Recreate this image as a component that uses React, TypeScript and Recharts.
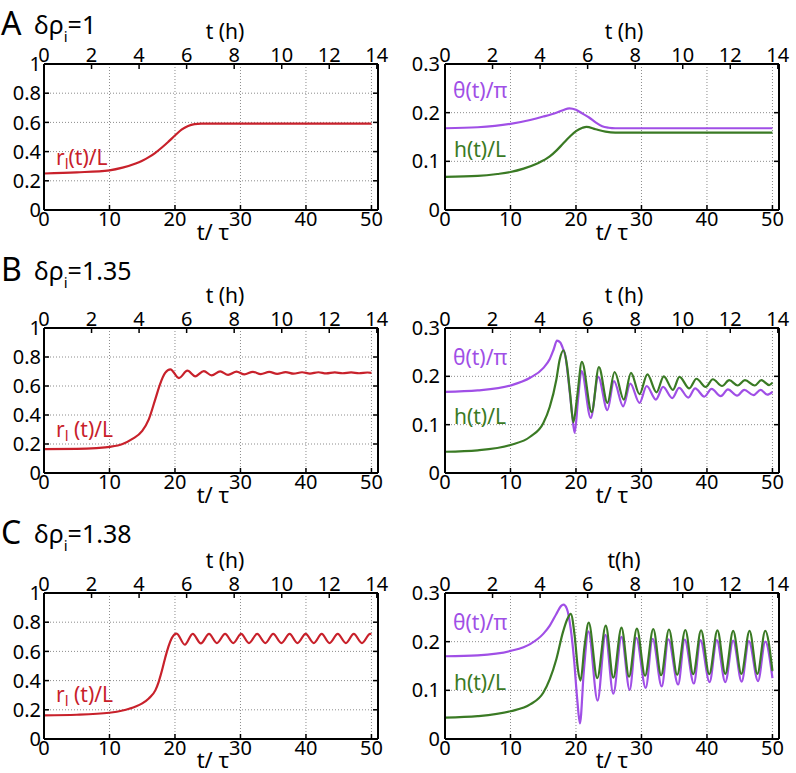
import React from "react";
import { LineChart, Line, XAxis, YAxis, CartesianGrid } from "recharts";

const FONT = "'Noto Sans', 'DejaVu Sans', sans-serif";
const RED = "#c8212b";
const PURPLE = "#a04fe6";
const GREEN = "#3a7a24";

const tauTicks = [0, 10, 20, 30, 40, 50];
const hourTicks = [0, 2, 4, 6, 8, 10, 12, 14];
const rTicks = [0, 0.2, 0.4, 0.6, 0.8, 1];
const angleTicks = [0, 0.1, 0.2, 0.3];

// A: δρi = 1
const tA_r = [0, 5, 10, 12, 14, 15, 16, 17, 18, 19, 20, 21, 22, 23, 24, 26, 30, 40, 50];
const rA = [0.25, 0.258, 0.272, 0.29, 0.318, 0.338, 0.362, 0.392, 0.428, 0.468, 0.51, 0.55, 0.575, 0.588, 0.592, 0.592, 0.592, 0.592, 0.592];
const tA_th = [0, 5, 10, 13, 15, 17, 18, 19, 20, 21, 22, 23, 24, 25, 26, 30, 40, 50];
const thA = [0.168, 0.17, 0.177, 0.185, 0.192, 0.2, 0.205, 0.209, 0.206, 0.198, 0.19, 0.18, 0.172, 0.169, 0.168, 0.168, 0.168, 0.168];
const tA_h = [0, 5, 8, 10, 12, 14, 16, 17, 18, 19, 20, 21, 21.6, 23, 24.5, 26, 30, 50];
const hA = [0.068, 0.07, 0.074, 0.078, 0.085, 0.095, 0.11, 0.122, 0.136, 0.15, 0.162, 0.169, 0.171, 0.166, 0.161, 0.159, 0.159, 0.159];

// B: δρi = 1.35
const tB_r = [0, 5, 8, 10, 12, 13.5, 15, 16, 17, 17.7, 18.5, 19.3, 20.6, 21.9, 23.1, 24.4, 25.6, 26.9, 28.1, 29.4, 30.6, 31.9, 33.1, 34.4, 35.6, 36.9, 38.1, 39.4, 40.6, 41.9, 43.1, 44.4, 45.6, 46.9, 48.1, 49.4, 50];
const rB = [0.164, 0.166, 0.172, 0.18, 0.2, 0.235, 0.29, 0.37, 0.51, 0.61, 0.69, 0.715, 0.655, 0.706, 0.667, 0.703, 0.673, 0.701, 0.677, 0.699, 0.68, 0.698, 0.682, 0.697, 0.684, 0.696, 0.685, 0.695, 0.686, 0.695, 0.687, 0.694, 0.688, 0.694, 0.688, 0.693, 0.691];
const tB_th = [0, 5, 10, 13, 15, 16, 16.6, 17.1, 17.6, 18, 18.4, 18.9, 19.4, 19.8, 20.3, 20.85, 22.25, 23.4, 24.8, 25.8, 27.2, 28.3, 29.7, 30.8, 32.2, 33.3, 34.7, 35.75, 37.15, 38.2, 39.6, 40.7, 42.1, 43.2, 44.6, 45.7, 47.1, 48.2, 49.2, 50];
const thB = [0.168, 0.171, 0.181, 0.197, 0.217, 0.236, 0.256, 0.274, 0.27, 0.258, 0.241, 0.186, 0.123, 0.083, 0.15, 0.211, 0.114, 0.199, 0.13, 0.19, 0.138, 0.185, 0.145, 0.18, 0.152, 0.178, 0.155, 0.176, 0.156, 0.175, 0.158, 0.174, 0.159, 0.173, 0.16, 0.172, 0.161, 0.172, 0.162, 0.168];
const tB_h = [0, 5, 10, 13, 15, 16, 17, 17.5, 18.1, 18.6, 19.1, 19.6, 20.2, 20.9, 22.4, 23.5, 24.8, 25.9, 27.3, 28.4, 29.7, 30.9, 32.3, 33.4, 34.8, 35.8, 37.3, 38.4, 39.8, 40.9, 42.3, 43.4, 44.7, 45.8, 47.3, 48.3, 49.5, 50];
const hB = [0.044, 0.047, 0.058, 0.075, 0.103, 0.137, 0.193, 0.234, 0.254, 0.225, 0.165, 0.105, 0.16, 0.23, 0.126, 0.219, 0.145, 0.209, 0.152, 0.207, 0.163, 0.204, 0.167, 0.2, 0.172, 0.199, 0.175, 0.195, 0.178, 0.194, 0.18, 0.192, 0.181, 0.192, 0.181, 0.192, 0.182, 0.187];

// C: δρi = 1.38
const tC_r = [0, 5, 10, 12, 13, 14, 15, 16, 17, 17.5, 18, 18.5, 19, 19.5, 20.25, 21.5, 22.7, 23.95, 25.2, 26.4, 27.65, 28.9, 30.1, 31.3, 32.55, 33.8, 35, 36.25, 37.5, 38.7, 39.95, 41.2, 42.4, 43.6, 44.85, 46.1, 47.3, 48.55, 49.8, 50];
const rC = [0.162, 0.166, 0.18, 0.195, 0.207, 0.222, 0.244, 0.278, 0.333, 0.39, 0.467, 0.555, 0.633, 0.69, 0.722, 0.646, 0.72, 0.655, 0.72, 0.657, 0.72, 0.657, 0.72, 0.657, 0.72, 0.657, 0.72, 0.657, 0.72, 0.657, 0.72, 0.657, 0.72, 0.657, 0.72, 0.657, 0.72, 0.657, 0.72, 0.719];
const tC_th = [0, 5, 10, 13, 15, 16, 17, 17.7, 18.1, 18.6, 19.2, 19.7, 20.2, 20.6, 21.2, 21.9, 23.3, 24.5, 25.7, 26.95, 28.2, 29.2, 30.65, 31.7, 33.1, 34.1, 35.6, 36.6, 38, 39, 40.4, 41.5, 42.8, 44, 45.3, 46.4, 47.8, 48.9, 50];
const thC = [0.17, 0.172, 0.181, 0.195, 0.216, 0.233, 0.257, 0.273, 0.276, 0.268, 0.226, 0.164, 0.08, 0.032, 0.14, 0.221, 0.079, 0.214, 0.093, 0.21, 0.101, 0.208, 0.105, 0.206, 0.108, 0.205, 0.112, 0.204, 0.114, 0.203, 0.117, 0.203, 0.117, 0.202, 0.118, 0.201, 0.119, 0.2, 0.125];
const tC_h = [0, 5, 10, 13, 15, 16, 17, 18, 18.7, 19.2, 19.8, 20.3, 20.7, 21.3, 21.95, 23.25, 24.55, 25.7, 26.95, 28.1, 29.3, 30.55, 31.8, 33, 34.2, 35.45, 36.7, 37.9, 39.1, 40.35, 41.6, 42.8, 44, 45.25, 46.5, 47.7, 48.9, 50];
const hC = [0.044, 0.047, 0.057, 0.071, 0.095, 0.123, 0.164, 0.219, 0.247, 0.257, 0.212, 0.143, 0.12, 0.19, 0.239, 0.125, 0.233, 0.126, 0.229, 0.128, 0.227, 0.13, 0.226, 0.131, 0.225, 0.132, 0.224, 0.133, 0.223, 0.133, 0.223, 0.134, 0.222, 0.134, 0.222, 0.134, 0.222, 0.14];

type Pt = { t: number; v: number };
const zip = (t: number[], v: number[]): Pt[] => t.map((x, i) => ({ t: x, v: v[i] }));

// empty rows so the top (hours) axis has something to belong to
const hourAnchor = hourTicks.map((h) => ({ h }));

type Series = { name: string; data: Pt[]; color: string };

type PanelProps = {
  x: number;
  plotTop: number;
  plotH: number;
  width: number;
  yw: number;
  right: number;
  yMax: number;
  yTicks: number[];
  yMargin: number;
  series: Series[];
};

function Panel({ x, plotTop, plotH, width, yw, right, yMax, yTicks, yMargin, series }: PanelProps) {
  const height = plotH + 104;
  const axisLine = { stroke: "#000", strokeWidth: 2 };
  const tickLine = { stroke: "#000", strokeWidth: 1.5 };
  const tick = { fontSize: 20, fill: "#000", fontFamily: FONT };
  return (
    <div style={{ position: "absolute", left: x, top: plotTop - 64 }}>
      <LineChart width={width} height={height} margin={{ top: 34, right, bottom: 10, left: 4 }}>
        <CartesianGrid xAxisId="tau" yAxisId="left" stroke="#8c8c8c" strokeDasharray="1 2" />
        <XAxis
          xAxisId="tau"
          dataKey="t"
          type="number"
          domain={[0, 51]}
          ticks={tauTicks}
          allowDataOverflow
          interval={0}
          height={30}
          axisLine={axisLine}
          tickLine={tickLine}
          tickSize={-5}
          tickMargin={7}
          tick={tick}
        />
        <XAxis
          xAxisId="hour"
          dataKey="h"
          orientation="top"
          type="number"
          domain={[0, 14.05]}
          ticks={hourTicks}
          allowDataOverflow
          interval={0}
          height={30}
          axisLine={axisLine}
          tickLine={tickLine}
          tickSize={-5}
          tickMargin={7}
          tick={tick}
        />
        <YAxis
          yAxisId="left"
          type="number"
          domain={[0, yMax]}
          ticks={yTicks}
          allowDataOverflow
          interval={0}
          width={yw}
          axisLine={axisLine}
          tickLine={tickLine}
          tickSize={-5}
          tickMargin={yMargin}
          tick={tick}
          tickFormatter={(v) => String(v)}
        />
        <YAxis
          yAxisId="right"
          orientation="right"
          type="number"
          domain={[0, yMax]}
          ticks={yTicks}
          allowDataOverflow
          interval={0}
          width={2}
          axisLine={axisLine}
          tickLine={tickLine}
          tickSize={-5}
          tickFormatter={() => ""}
        />
        <Line
          xAxisId="hour"
          yAxisId="right"
          data={hourAnchor}
          dataKey="v"
          stroke="none"
          dot={false}
          legendType="none"
          isAnimationActive={false}
        />
        {series.map((s) => (
          <Line
            key={s.name}
            xAxisId="tau"
            yAxisId="left"
            data={s.data}
            dataKey="v"
            name={s.name}
            type="monotone"
            stroke={s.color}
            strokeWidth={2.2}
            dot={false}
            isAnimationActive={false}
          />
        ))}
      </LineChart>
    </div>
  );
}

const rows = [
  { key: "A", dp: "=1", plotTop: 64, plotH: 146, titleY: 35, rY: 165, thY: 98, hY: 157, r: zip(tA_r, rA), th: zip(tA_th, thA), h: zip(tA_h, hA) },
  { key: "B", dp: "=1.35", plotTop: 328, plotH: 145, titleY: 281, rY: 437, thY: 365, hY: 424, r: zip(tB_r, rB), th: zip(tB_th, thB), h: zip(tB_h, hB) },
  { key: "C", dp: "=1.38", plotTop: 593, plotH: 146, titleY: 544, rY: 702, thY: 630, hY: 690, r: zip(tC_r, rC), th: zip(tC_th, thC), h: zip(tC_h, hC) },
];

export default function App() {
  return (
    <div
      style={{
        position: "absolute",
        left: 0,
        top: 0,
        width: 796,
        height: 773,
        overflow: "hidden",
        background: "#fff",
        fontFamily: FONT,
      }}
    >
      {rows.map((row) => (
        <React.Fragment key={row.key}>
          <Panel
            x={0}
            plotTop={row.plotTop}
            plotH={row.plotH}
            width={396}
            yw={40}
            right={16}
            yMax={1}
            yTicks={rTicks}
            yMargin={8}
            series={[{ name: "r", data: row.r, color: RED }]}
          />
          <Panel
            x={396}
            plotTop={row.plotTop}
            plotH={row.plotH}
            width={400}
            yw={45}
            right={15}
            yMax={0.3}
            yTicks={angleTicks}
            yMargin={10}
            series={[
              { name: "theta", data: row.th, color: PURPLE },
              { name: "h", data: row.h, color: GREEN },
            ]}
          />
        </React.Fragment>
      ))}
      <svg
        width={796}
        height={773}
        style={{ position: "absolute", left: 0, top: 0, pointerEvents: "none" }}
        fontFamily={FONT}
      >
        {rows.map((row) => {
          const bot = row.plotTop + row.plotH;
          const labelY = Math.min(bot + 30, 768);
          return (
            <g key={row.key}>
              <text x={1} y={row.titleY} fontSize={32} fill="#000">{row.key}</text>
              <text x={34} y={row.titleY - 1} fontSize={25} fill="#000">
                δρ
                <tspan fontSize={15} dy={8}>i</tspan>
                <tspan dy={-8}>{row.dp}</tspan>
              </text>
              <text x={225} y={row.plotTop - 25} fontSize={21} textAnchor="middle" fill="#000">t (h)</text>
              <text x={624} y={row.plotTop - 25} fontSize={21} textAnchor="middle" fill="#000">
                {row.key === "C" ? "t(h)" : "t (h)"}
              </text>
              <text x={213} y={labelY} fontSize={22} textAnchor="middle" fill="#000">t/ τ</text>
              <text x={612} y={labelY} fontSize={22} textAnchor="middle" fill="#000">t/ τ</text>
              <text x={56} y={row.rY} fontSize={21} fill={RED}>
                r<tspan fontSize={15} dy={4}>l</tspan>
                <tspan dy={-4}>{row.key === "A" ? "(t)/L" : " (t)/L"}</tspan>
              </text>
              <text x={453} y={row.thY} fontSize={21} fill={PURPLE}>θ(t)/π</text>
              <text x={454} y={row.hY} fontSize={21} fill={GREEN}>h(t)/L</text>
            </g>
          );
        })}
      </svg>
    </div>
  );
}
